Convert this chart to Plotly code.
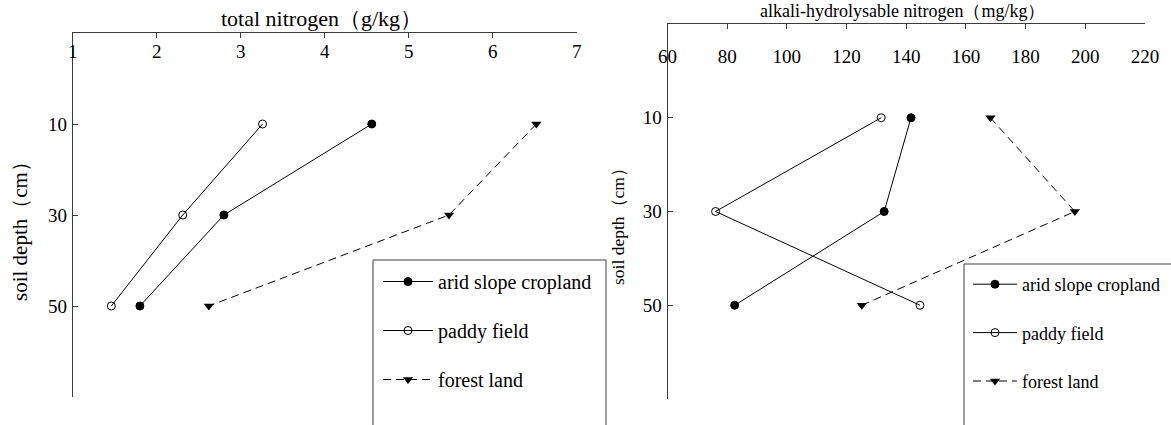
import plotly.graph_objects as go

# ---- data ----
depths = [10, 30, 50]
series_names = ["arid slope cropland", "paddy field", "forest land"]

tn_arid = [4.56, 2.80, 1.80]
tn_paddy = [3.26, 2.31, 1.46]
tn_forest = [6.52, 5.48, 2.62]

ahn_arid = [141.6, 132.6, 82.5]
ahn_paddy = [131.6, 76.1, 144.6]
ahn_forest = [168.2, 196.5, 125.1]

tn_ticks = [1, 2, 3, 4, 5, 6, 7]
ahn_ticks = [60, 80, 100, 120, 140, 160, 180, 200, 220]
depth_ticks = [-10, 10, 30, 50, 70]
depth_ticktext = ["", "10", "30", "50", ""]

W, H = 1171, 425
FONT = "Liberation Serif, Times New Roman, serif"
AX = "#3c3c3c"

def px_x(p):
    return p / W

def px_y(p):
    return 1 - p / H

fig = go.Figure()

styles = [
    dict(mode="lines+markers", line=dict(color="black", width=1),
         marker=dict(symbol="circle", size=8, color="black", line=dict(color="black", width=1))),
    dict(mode="lines+markers", line=dict(color="black", width=1),
         marker=dict(symbol="circle-open", size=8, color="black", line=dict(color="black", width=1))),
    dict(mode="lines+markers", line=dict(color="black", width=1, dash="8px,5px"),
         marker=dict(symbol="triangle-down", size=9, color="black")),
]

for name, vals, st in zip(series_names, [tn_arid, tn_paddy, tn_forest], styles):
    fig.add_trace(go.Scatter(x=vals, y=depths, name=name, xaxis="x", yaxis="y",
                             legend="legend", legendgroup="L" + name, **st))
for name, vals, st in zip(series_names, [ahn_arid, ahn_paddy, ahn_forest], styles):
    fig.add_trace(go.Scatter(x=vals, y=depths, name=name, xaxis="x2", yaxis="y2",
                             legend="legend2", legendgroup="R" + name, **st))

common_x = dict(side="top", showline=True, linecolor=AX, linewidth=1, showgrid=False,
                zeroline=False, ticks="inside", ticklen=5, tickcolor=AX, automargin=False,
                ticklabelposition="inside", ticklabeloverflow="allow",
                tickfont=dict(family=FONT, size=19, color="black"))
common_y = dict(autorange=False, showline=True, linecolor=AX, linewidth=1, showgrid=False,
                zeroline=False, ticks="inside", ticklen=5, tickcolor=AX, automargin=False,
                tickvals=depth_ticks, ticktext=depth_ticktext, ticklabelstandoff=1,
                tickfont=dict(family=FONT, size=19, color="black"))

fig.update_layout(
    width=W, height=H, autosize=False,
    margin=dict(l=0, r=0, t=0, b=0, autoexpand=False),
    paper_bgcolor="white", plot_bgcolor="white",
    font=dict(family=FONT, color="black"),
    xaxis=dict(domain=[px_x(72.7), px_x(576.7)], range=[1, 7], tickvals=tn_ticks,
               anchor="y", ticklabelstandoff=8, **common_x),
    yaxis=dict(domain=[px_y(397), px_y(33)], range=[70, -10], anchor="x", **common_y),
    xaxis2=dict(domain=[px_x(667.5), px_x(1145)], range=[60, 220], tickvals=ahn_ticks,
                anchor="y2", ticklabelstandoff=22, **common_x),
    yaxis2=dict(domain=[px_y(399), px_y(24)], range=[70, -10], anchor="x2", **common_y),
    legend=dict(x=px_x(378), y=px_y(262), xanchor="left", yanchor="top",
                bgcolor="rgba(0,0,0,0)", borderwidth=0, itemwidth=50, tracegroupgap=20,
                font=dict(family=FONT, size=20, color="black")),
    legend2=dict(x=px_x(968), y=px_y(266), xanchor="left", yanchor="top",
                 bgcolor="rgba(0,0,0,0)", borderwidth=0, itemwidth=44, tracegroupgap=22,
                 font=dict(family=FONT, size=18, color="black")),
    showlegend=True,
    annotations=[
        dict(text="total nitrogen（g/kg）", x=px_x(321), y=px_y(33), xref="paper", yref="paper",
             xanchor="center", yanchor="bottom", showarrow=False,
             font=dict(family=FONT, size=22, color="black")),
        dict(text="alkali-hydrolysable nitrogen（mg/kg）", x=px_x(902), y=px_y(23), xref="paper", yref="paper",
             xanchor="center", yanchor="bottom", showarrow=False,
             font=dict(family=FONT, size=18, color="black")),
        dict(text="soil depth（cm）", textangle=-90, x=px_x(20), y=px_y(226), xref="paper", yref="paper",
             xanchor="center", yanchor="middle", showarrow=False,
             font=dict(family=FONT, size=21, color="black")),
        dict(text="soil depth（cm）", textangle=-90, x=px_x(618), y=px_y(222), xref="paper", yref="paper",
             xanchor="center", yanchor="middle", showarrow=False,
             font=dict(family=FONT, size=17.5, color="black")),
    ],
    shapes=[
        dict(type="path", xref="paper", yref="paper",
             path=f"M {px_x(373)} {px_y(430)} L {px_x(373)} {px_y(260)} L {px_x(606)} {px_y(260)} L {px_x(606)} {px_y(430)}",
             line=dict(color=AX, width=1)),
        dict(type="path", xref="paper", yref="paper",
             path=f"M {px_x(964)} {px_y(430)} L {px_x(964)} {px_y(264)} L {px_x(1175)} {px_y(264)}",
             line=dict(color=AX, width=1)),
    ],
)

fig.write_html("out.html", config={"displayModeBar": False},
               post_script="document.body.style.margin='0';document.body.style.overflow='hidden';")
